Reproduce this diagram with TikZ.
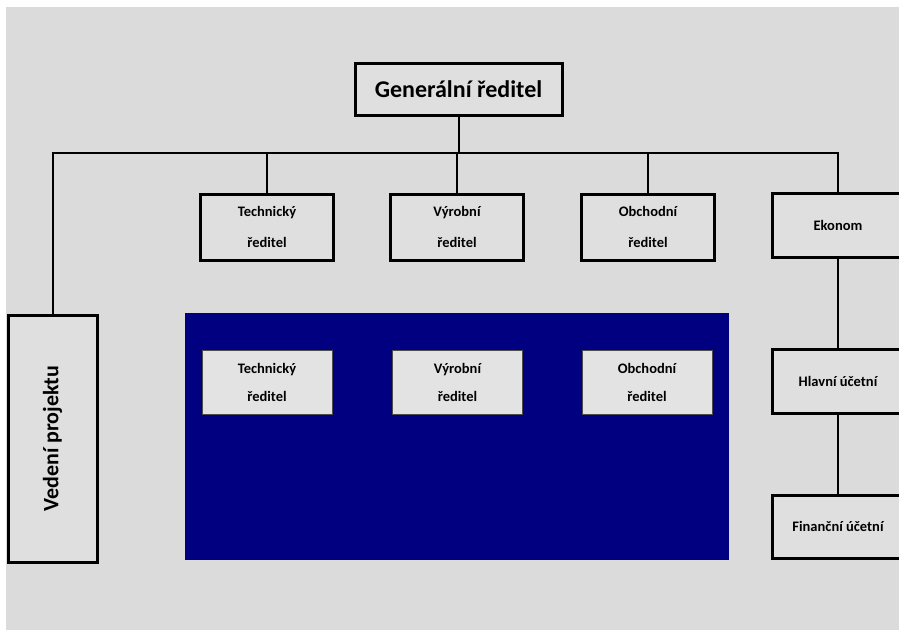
\documentclass[tikz,border=0pt]{standalone}
\usepackage{fontspec}
\setmainfont{Carlito}
\usepackage{tikz}

\begin{document}
\begin{tikzpicture}[x=1pt,y=-1pt]
			\tikzstyle{every node}+=[inner sep=0pt,font=\bfseries]
			\tikzstyle{box}=[draw=black,line width=3pt,fill=gray!25,minimum width=133pt,minimum height=66pt,align=center,font=\bfseries\fontsize{14.5}{31}\selectfont]
			\tikzstyle{inbox}=[draw=black!70,line width=0.8pt,fill=gray!22,minimum width=130pt,minimum height=64pt,align=center,font=\bfseries\fontsize{14.5}{28}\selectfont]
			\tikzstyle{link}=[black,line width=2pt]
			\useasboundingbox (0,0) rectangle (899,630);
			\clip (0,0) rectangle (899,630);
			\fill [white] (0,0) rectangle (899,630);
			\fill [gray!28] (6,7) rectangle (899,630);
			\fill [blue!50!black] (185,313) rectangle (729,560);
			\node [box,minimum width=207pt,minimum height=52pt,font=\bfseries\fontsize{24}{28}\selectfont] (gen) at (458.5,89) {Generální ředitel};
			\node [box,minimum width=89pt,minimum height=247pt] (proj) at (52.5,438.5) {};
			\node [rotate=90,font=\bfseries\fontsize{22}{26}\selectfont] at (proj.center) {Vedení projektu};
			\node [box] (tech) at (267,227) {Technický\\ředitel};
			\node [box] (vyr) at (457,227) {Výrobní\\ředitel};
			\node [box] (obch) at (648,227) {Obchodní\\ředitel};
			\node [box,minimum width=132pt,minimum height=64pt] (ekon) at (838,225) {Ekonom};
			\node [box,minimum width=132pt,minimum height=64pt] (hlav) at (838,381) {Hlavní účetní};
			\node [box,minimum width=132pt,minimum height=63pt] (fin) at (838,526.5) {Finanční účetní};
			\node [inbox] (tech2) at (267,382) {Technický\\ředitel};
			\node [inbox] (vyr2) at (457.5,382) {Výrobní\\ředitel};
			\node [inbox] (obch2) at (647,382) {Obchodní\\ředitel};
			\coordinate (bus) at (gen.south |- 0,153);
			\draw [link] (gen.south) -- (bus);
			\draw [link] (proj.north) |- (bus) -| (ekon.north);
			\draw [link] (tech.north) -- (tech.north |- bus);
			\draw [link] (vyr.north) -- (vyr.north |- bus);
			\draw [link] (obch.north) -- (obch.north |- bus);
			\draw [link] (ekon.south) -- (hlav.north);
			\draw [link] (hlav.south) -- (fin.north);
		\end{tikzpicture}
\end{document}
